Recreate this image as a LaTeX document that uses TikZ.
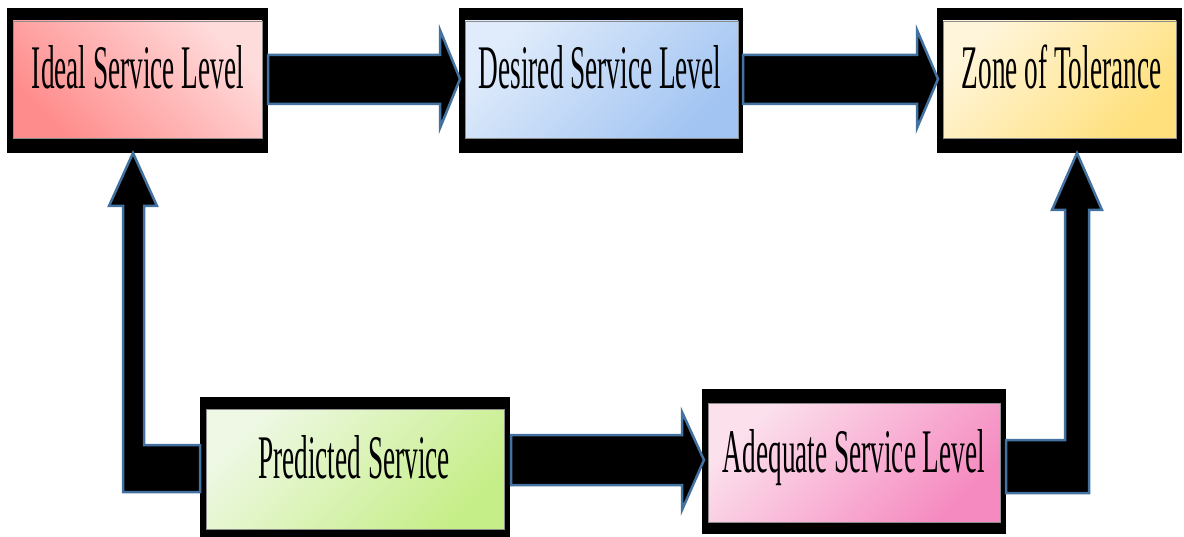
\documentclass[tikz,border=0pt]{standalone}
\usepackage{fontspec}
\newfontfamily\boxfont[FakeStretch=0.44]{Liberation Serif}
\usetikzlibrary{calc}
\definecolor{arrowedge}{RGB}{68,114,160}
\definecolor{idealA}{HTML}{FFDCDC}
\definecolor{idealB}{HTML}{FF8C8C}
\definecolor{desA}{HTML}{E0ECFB}
\definecolor{desB}{HTML}{A2C4F2}
\definecolor{zoneA}{HTML}{FFF5DA}
\definecolor{zoneB}{HTML}{FFE07C}
\definecolor{predA}{HTML}{EEF8E4}
\definecolor{predB}{HTML}{C6EE88}
\definecolor{adeqA}{HTML}{FCE1ED}
\definecolor{adeqB}{HTML}{F58AC0}
\begin{document}
\begin{tikzpicture}[x=1pt,y=-1pt,
  boxouter/.style={rectangle, fill=black, inner sep=0pt, outer sep=0pt},
  innerfill/.style={draw=black!45, line width=0.6pt},
  lbl/.style={font=\boxfont\fontsize{62}{62}\selectfont, anchor=base, inner sep=0pt, text=black},
  blockarrow/.style={fill=black, draw=arrowedge, line width=2.5pt, line join=miter}]
\useasboundingbox (0,0) rectangle (1184,537);
\clip (0,0) rectangle (1184,537);

% boxes
\node[boxouter, minimum width=261pt, minimum height=145pt] (ideal) at (137.5,80.5) {};
\node[boxouter, minimum width=284pt, minimum height=145pt] (desired) at (601,80.5) {};
\node[boxouter, minimum width=245pt, minimum height=145pt] (zone) at (1059.5,80.5) {};
\node[boxouter, minimum width=310pt, minimum height=142pt] (predicted) at (355,468) {};
\node[boxouter, minimum width=304pt, minimum height=145pt] (adequate) at (854,461.5) {};

\shade[innerfill, top color=idealA, bottom color=idealB, shading angle=-45]
  ($(ideal.north west)+(6,13)$) rectangle ($(ideal.south east)+(-6,-15)$);
\shade[innerfill, top color=desA, bottom color=desB, shading angle=45]
  ($(desired.north west)+(6,13)$) rectangle ($(desired.south east)+(-5,-15)$);
\shade[innerfill, top color=zoneA, bottom color=zoneB, shading angle=45]
  ($(zone.north west)+(6,13)$) rectangle ($(zone.south east)+(-6,-15)$);
\shade[innerfill, top color=predA, bottom color=predB, shading angle=45]
  ($(predicted.north west)+(6,12)$) rectangle ($(predicted.south east)+(-6,-10)$);
\shade[innerfill, top color=adeqA, bottom color=adeqB, shading angle=45]
  ($(adequate.north west)+(6,14)$) rectangle ($(adequate.south east)+(-6,-12)$);

% labels
\node[lbl] (idealtxt) at ($(ideal.center)+(0.5,8.5)$) {Ideal Service Level};
\node[lbl] (desiredtxt) at ($(desired.center)+(-1,8.5)$) {Desired Service Level};
\node[lbl] (zonetxt) at ($(zone.center)+(2,8.5)$) {Zone of Tolerance};
\node[lbl] (predictedtxt) at ($(predicted.center)+(-1,10)$) {Predicted Service};
\node[lbl] (adequatetxt) at ($(adequate.center)+(0,10.5)$) {Adequate Service Level};

% ideal -> desired
\draw[blockarrow] ($(ideal.east)+(0,-25.5)$) -- ($(desired.west)+(-19,-25.5)$)
  -- ($(desired.west)+(-19,-50.5)$) -- ($(desired.west)+(1,-1.5)$)
  -- ($(desired.west)+(-19,47.5)$) -- ($(desired.west)+(-19,23.5)$)
  -- ($(ideal.east)+(0,23.5)$) -- cycle;
% desired -> zone
\draw[blockarrow] ($(desired.east)+(0,-25.5)$) -- ($(zone.west)+(-20,-25.5)$)
  -- ($(zone.west)+(-20,-50.5)$) -- ($(zone.west)+(1,-1.5)$)
  -- ($(zone.west)+(-20,47.5)$) -- ($(zone.west)+(-20,23.5)$)
  -- ($(desired.east)+(0,23.5)$) -- cycle;
% predicted -> adequate
\draw[blockarrow] ($(predicted.east |- adequate.west)+(1,-26.5)$) -- ($(adequate.west)+(-20,-26.5)$)
  -- ($(adequate.west)+(-20,-49.5)$) -- ($(adequate.west)+(2,-1.5)$)
  -- ($(adequate.west)+(-20,48.5)$) -- ($(adequate.west)+(-20,23.5)$)
  -- ($(predicted.east |- adequate.west)+(1,23.5)$) -- cycle;
% predicted -> ideal (bent up)
\draw[blockarrow] ($(predicted.west)+(0,-23)$) -- ($(ideal.south |- predicted.west)+(6.5,-23)$)
  -- ($(ideal.south)+(6.5,53)$) -- ($(ideal.south)+(19.5,53)$)
  -- ($(ideal.south)+(-4.5,0)$) -- ($(ideal.south)+(-28.5,53)$)
  -- ($(ideal.south)+(-14.5,53)$) -- ($(ideal.south |- predicted.west)+(-14.5,24)$)
  -- ($(predicted.west)+(0,24)$) -- cycle;
% adequate -> zone (bent up)
\draw[blockarrow] ($(adequate.east)+(0,-21.5)$) -- ($(zone.south |- adequate.east)+(5.5,-21.5)$)
  -- ($(zone.south)+(5.5,57)$) -- ($(zone.south)+(-7.5,57)$)
  -- ($(zone.south)+(17.5,0)$) -- ($(zone.south)+(42.5,57)$)
  -- ($(zone.south)+(29.5,57)$) -- ($(zone.south |- adequate.east)+(29.5,31.5)$)
  -- ($(adequate.east)+(0,31.5)$) -- cycle;
\end{tikzpicture}
\end{document}
